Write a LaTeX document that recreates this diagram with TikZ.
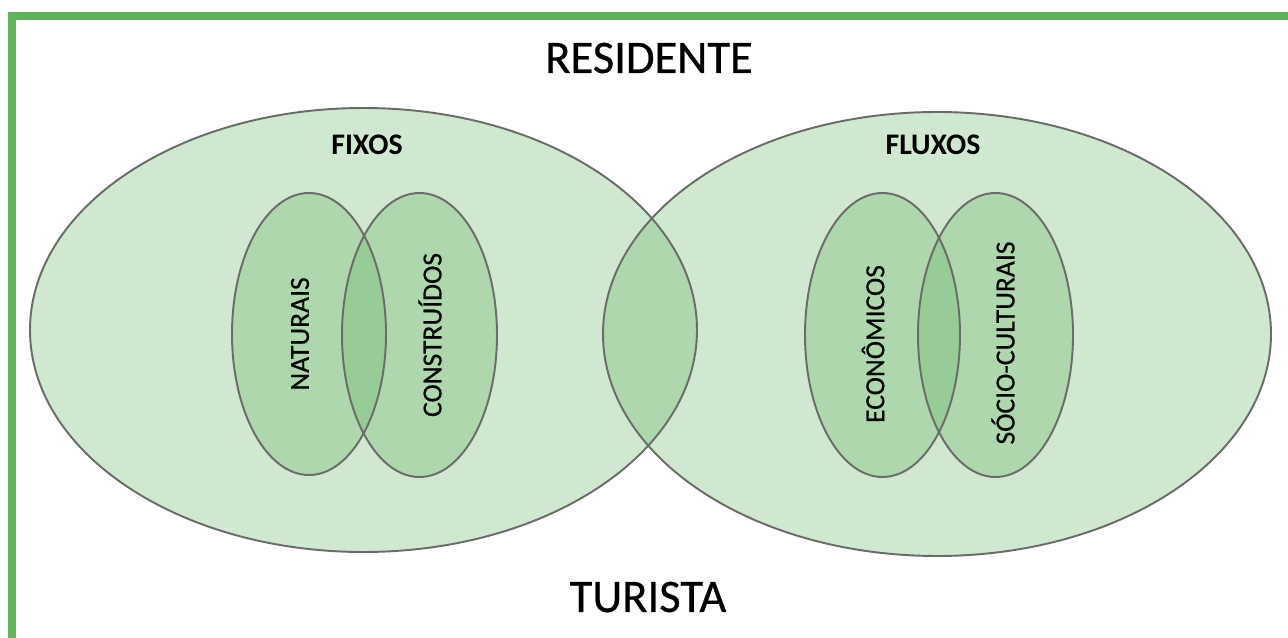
\documentclass[tikz,border=0pt]{standalone}
\usepackage{fontspec}
\setmainfont{Carlito}
\newfontfamily\medio[FakeBold=0.6]{Carlito}
\definecolor{moldura}{RGB}{99,178,95}
\definecolor{contorno}{RGB}{105,108,105}
\tikzset{
  conjunto/.style={fill=moldura, fill opacity=0.3},
  borda/.style={draw=contorno, line width=1.1pt},
  titulo/.style={inner sep=0pt, font=\medio\fontsize{26.5}{30}\selectfont},
  grupo/.style={inner sep=0pt, font=\fontsize{17}{20}\selectfont\bfseries},
  rotulo/.style={inner sep=0pt, rotate=90, font=\medio\fontsize{15.7}{18}\selectfont}
}
\begin{document}
\begin{tikzpicture}[x=0.02cm,y=-0.02cm]
  \useasboundingbox (0,0) rectangle (1288,638);

  % moldura
  \draw[moldura, line width=8*0.569pt, line join=miter] (1288,16) -| (12,638);

  % preenchimentos
  \fill[conjunto] (363.5,330) ellipse [x radius=333.5, y radius=222];
  \fill[conjunto] (937,334) ellipse [x radius=334, y radius=222];
  \fill[conjunto] (309,334) ellipse [x radius=77, y radius=141];
  \fill[conjunto] (419.5,335) ellipse [x radius=77.5, y radius=142];
  \fill[conjunto] (882.5,335) ellipse [x radius=77.5, y radius=142];
  \fill[conjunto] (995.5,335) ellipse [x radius=77.5, y radius=142];

  % contornos
  \draw[borda] (363.5,330) ellipse [x radius=333.5, y radius=222];
  \draw[borda] (937,334) ellipse [x radius=334, y radius=222];
  \draw[borda] (309,334) ellipse [x radius=77, y radius=141];
  \draw[borda] (419.5,335) ellipse [x radius=77.5, y radius=142];
  \draw[borda] (882.5,335) ellipse [x radius=77.5, y radius=142];
  \draw[borda] (995.5,335) ellipse [x radius=77.5, y radius=142];

  % textos
  \node[titulo] (residente) at (649,58) {RESIDENTE};
  \node[titulo] (turista) at (648,597) {TURISTA};
  \node[grupo] (fixos) at (367,145) {FIXOS};
  \node[grupo] (fluxos) at (933,145) {FLUXOS};
  \node[rotulo] (naturais) at (300,334) {NATURAIS};
  \node[rotulo] (construidos) at (430,335) {CONSTRUÍDOS};
  \node[rotulo] (economicos) at (873,344) {ECONÔMICOS};
  \node[rotulo] (socioculturais) at (1003,343) {SÓCIO-CULTURAIS};
\end{tikzpicture}
\end{document}
